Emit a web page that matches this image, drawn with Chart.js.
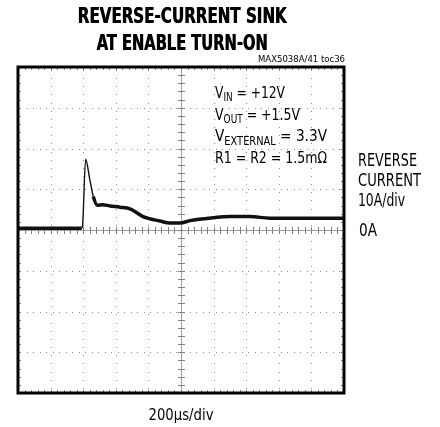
<!DOCTYPE html>
<html>
<head>
<meta charset="utf-8">
<script src="https://cdn.jsdelivr.net/npm/chart.js@4/dist/chart.umd.min.js"></script>
<style>
  html, body { margin: 0; padding: 0; background: #fff; }
  canvas { display: block; }
</style>
</head>
<body>
<canvas id="scope" width="440" height="427"></canvas>
<script>
// ── Data ────────────────────────────────────────────────────────────────────
const timeUs   = [0, 391, 396, 415, 440, 462, 486, 520, 564, 626, 687, 767, 871, 933, 994, 1055, 1196, 1301, 1423, 1546, 1730, 2000]
const currentA = [0.4, 0.4, 1.0, 17.4, 12.5, 8.2, 6.1, 6.2, 5.9, 5.6, 5.2, 3.3, 2.2, 1.7, 1.7, 2.3, 3.0, 3.3, 3.3, 2.9, 2.9, 2.9]

const xDivs = 10, yDivs = 8
const xRange = [0, 2000]   // 200us/div
const yRange = [-40, 40]   // 10A/div

const titleLines = ['REVERSE-CURRENT SINK', 'AT ENABLE TURN-ON']
const partLabel = 'MAX5038A/41 toc36'
const conditions = [
  [['V', ''], ['IN', 'sub'], [' = +12V', '']],
  [['V', ''], ['OUT', 'sub'], [' = +1.5V', '']],
  [['V', ''], ['EXTERNAL', 'sub'], [' = 3.3V', '']],
  [['R1 = R2 = 1.5m\u03A9', '']]
]
const conditionWidths = [70, 85, 112, 112]
const sideLabels = ['REVERSE', 'CURRENT', '10A/div']
const sideWidths = [59, 63, 47]
const zeroLabel = '0A'
const timeLabel = '200\u00B5s/div'

const NARROW = "'Liberation Sans Narrow', 'DejaVu Sans Condensed', sans-serif"

// draw a run of [text, kind] pieces squeezed/stretched to a given width
function drawFitted(ctx, parts, x, y, width, size, align) {
  const subSize = size * 0.72
  const widths = parts.map(([txt, kind]) => {
    ctx.font = (kind === 'sub' ? subSize : size) + 'px ' + NARROW
    return ctx.measureText(txt).width
  })
  const natural = widths.reduce((s, w) => s + w, 0)
  const k = width / natural
  let x0 = x
  if (align === 'center') x0 = x - width / 2
  if (align === 'right') x0 = x - width
  ctx.save()
  ctx.textAlign = 'left'
  ctx.translate(x0, y)
  ctx.scale(k, 1)
  let px = 0
  parts.forEach(([txt, kind], i) => {
    ctx.font = (kind === 'sub' ? subSize : size) + 'px ' + NARROW
    ctx.fillText(txt, px, kind === 'sub' ? size * 0.2 : 0)
    px += widths[i]
  })
  ctx.restore()
}

// ── Graticule + text plugin ─────────────────────────────────────────────────
const scopePlugin = {
  id: 'scope',
  beforeDatasetsDraw(chart) {
    const { ctx, chartArea: a, scales: { x, y } } = chart
    const dx = (xRange[1] - xRange[0]) / xDivs
    const dy = (yRange[1] - yRange[0]) / yDivs
    const xc = x.getPixelForValue(0.5 * (xRange[0] + xRange[1]))
    const yc = y.getPixelForValue(0)
    ctx.save()
    ctx.fillStyle = '#8a8a8a'
    // dotted division lines
    for (let i = 1; i < xDivs; i++) {
      const px = Math.round(x.getPixelForValue(xRange[0] + i * dx))
      for (let py = a.top + 3; py < a.bottom; py += 8.15) ctx.fillRect(px, Math.round(py), 1, 1)
    }
    for (let j = 1; j < yDivs; j++) {
      const py = Math.round(y.getPixelForValue(yRange[0] + j * dy))
      for (let px = a.left + 2; px < a.right; px += 6.52) ctx.fillRect(Math.round(px), py, 1, 1)
    }
    // centre axes with minor ticks
    ctx.fillStyle = '#a0a0a0'
    ctx.fillRect(Math.round(xc), a.top, 1, a.bottom - a.top)
    ctx.fillRect(a.left, Math.round(yc), a.right - a.left, 1)
    ctx.fillStyle = '#808080'
    for (let k = 1; k < xDivs * 5; k++) {
      const px = Math.round(x.getPixelForValue(xRange[0] + k * dx / 5))
      ctx.fillRect(px, Math.round(yc) - 3, 1, 7)
      ctx.fillRect(px, a.top, 1, 3)
      ctx.fillRect(px, a.bottom - 3, 1, 3)
    }
    for (let k = 1; k < yDivs * 5; k++) {
      const py = Math.round(y.getPixelForValue(yRange[0] + k * dy / 5))
      ctx.fillRect(Math.round(xc) - 3, py, 7, 1)
      ctx.fillRect(a.right - 3, py, 3, 1)
      ctx.fillRect(a.left, py, 3, 1)
    }
    ctx.restore()
  },
  afterDraw(chart) {
    const { ctx, chartArea: a, scales: { y } } = chart
    ctx.save()
    // frame
    ctx.strokeStyle = '#000'
    ctx.lineWidth = 3
    ctx.strokeRect(a.left, a.top, a.right - a.left, a.bottom - a.top)

    ctx.fillStyle = '#000'
    ctx.textBaseline = 'alphabetic'
    // title
    ctx.textAlign = 'center'
    ctx.font = 'bold 21px ' + NARROW
    ctx.fillText(titleLines[0], 182, 23, 209)
    ctx.fillText(titleLines[1], 182, 50, 171)
    ctx.fillText(titleLines[0], 182.5, 23, 209)
    ctx.fillText(titleLines[1], 182.5, 50, 171)

    // part number
    drawFitted(ctx, [[partLabel, '']], 345, 62, 87, 9.5, 'right')

    // test conditions
    conditions.forEach((parts, i) => {
      drawFitted(ctx, parts, 215, 98 + i * 21.7, conditionWidths[i], 16.5, 'left')
    })

    // side labels
    sideLabels.forEach((txt, i) => drawFitted(ctx, [[txt, '']], 358, 166 + i * 20, sideWidths[i], 17.5, 'left'))
    drawFitted(ctx, [[zeroLabel, '']], 359, y.getPixelForValue(0) + 6, 18, 17.5, 'left')

    // time base
    drawFitted(ctx, [[timeLabel, '']], 181, 420, 65, 16.5, 'center')
    ctx.restore()
  }
}

const points = timeUs.map((t, i) => ({ x: t, y: currentA[i] }))

new Chart(document.getElementById('scope'), {
  type: 'scatter',
  data: {
    datasets: [{
      data: points,
      showLine: true,
      borderColor: '#111',
      borderWidth: 3.5,
      pointRadius: 0,
      cubicInterpolationMode: 'monotone',
      segment: {
        // the fast edges of the pulse are thin on the scope
        borderWidth: c => (c.p0.parsed.x >= 390 && c.p1.parsed.x <= 470 ? 1.4 : 3.5)
      }
    }]
  },
  options: {
    responsive: false,
    animation: false,
    layout: { padding: { left: 18, right: 96, top: 67, bottom: 34 } },
    plugins: { legend: { display: false }, tooltip: { enabled: false } },
    scales: {
      x: { type: 'linear', min: xRange[0], max: xRange[1], display: false },
      y: { type: 'linear', min: yRange[0], max: yRange[1], display: false }
    }
  },
  plugins: [scopePlugin]
})
</script>
</body>
</html>
